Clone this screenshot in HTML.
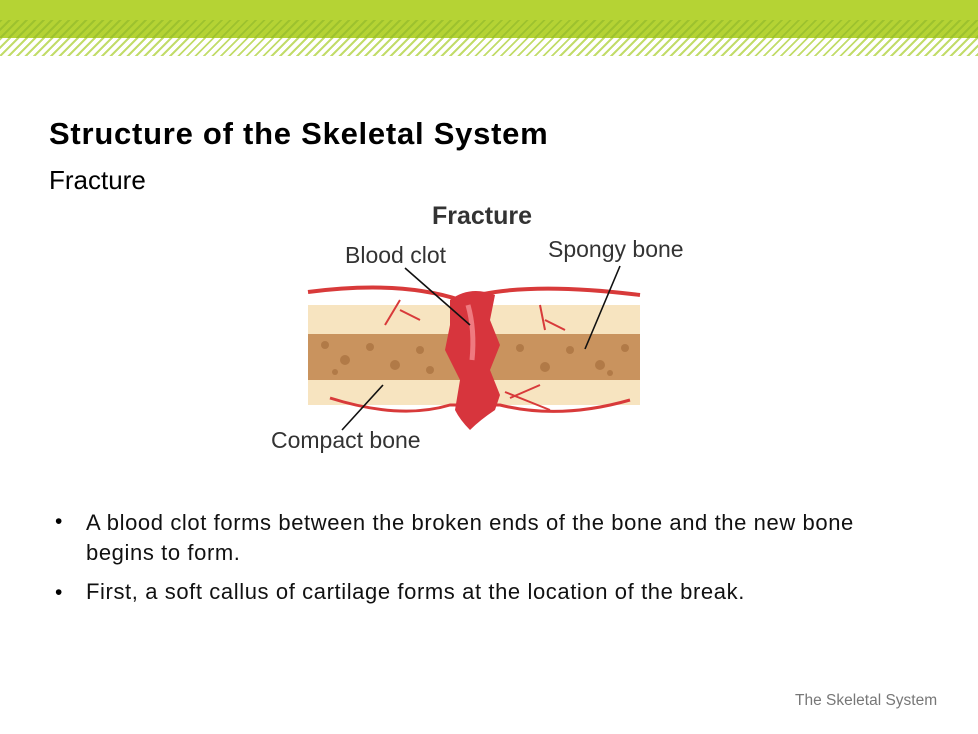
<!DOCTYPE html>
<html><head><style>
body{margin:0;width:978px;height:734px;background:#fff;position:relative;overflow:hidden;font-family:"Liberation Sans",Arial,sans-serif;}
.bar{position:absolute;left:0;top:0;width:978px;height:38px;background:#b5d334;}
.h1{position:absolute;left:0;top:20px;width:978px;height:18px;background:repeating-linear-gradient(135deg,#9dc22e 0 2px,transparent 2px 6px);}
.h2{position:absolute;left:0;top:38px;width:978px;height:18px;background:repeating-linear-gradient(135deg,#c2dc6a 0 2px,#fff 2px 6px);}
.t{position:absolute;white-space:nowrap;}
</style></head><body>
<div class="bar"></div><div class="h1"></div><div class="h2"></div>
<div class="t" style="left:49px;top:116px;font-size:31px;letter-spacing:0.75px;font-weight:bold;color:#000">Structure of the Skeletal System</div>
<div class="t" style="left:49px;top:165px;font-size:26px;color:#000">Fracture</div>
<svg style="position:absolute;left:0;top:0" width="978" height="734" font-family="Liberation Sans">
<text x="482" y="224" font-size="25" font-weight="bold" fill="#333" text-anchor="middle">Fracture</text>
<text x="345" y="263" font-size="23" fill="#333">Blood clot</text>
<text x="548" y="257" font-size="23" fill="#333">Spongy bone</text>
<text x="271" y="448" font-size="23" fill="#333">Compact bone</text>
<rect x="308" y="305" width="332" height="100" fill="#f7e4c0"/>
<rect x="308" y="334" width="332" height="46" fill="#c9935e"/>
<g fill="#a8703e" opacity=".7">
<circle cx="325" cy="345" r="4"/><circle cx="345" cy="360" r="5"/><circle cx="370" cy="347" r="4"/><circle cx="395" cy="365" r="5"/><circle cx="420" cy="350" r="4"/><circle cx="430" cy="370" r="4"/><circle cx="520" cy="348" r="4"/><circle cx="545" cy="367" r="5"/><circle cx="570" cy="350" r="4"/><circle cx="600" cy="365" r="5"/><circle cx="625" cy="348" r="4"/><circle cx="335" cy="372" r="3"/><circle cx="610" cy="373" r="3"/>
</g>
<path d="M308 292 Q400 280 460 300 Q520 280 640 295" stroke="#d83a3a" stroke-width="4" fill="none"/>
<path d="M400 300 L385 325 M400 310 L420 320 M540 305 L545 330 M545 320 L565 330 M505 392 L550 410 M510 398 L540 385" stroke="#d83a3a" stroke-width="2" fill="none"/>
<path d="M330 398 Q400 420 450 405 L500 405 Q560 420 630 400" stroke="#d83a3a" stroke-width="3" fill="none"/>
<path d="M450 300 Q470 285 495 295 L490 320 L500 345 L490 370 L500 395 L495 410 Q480 420 470 430 Q460 420 455 410 L460 380 L445 350 L450 325 Z" fill="#d7353d"/>
<path d="M468 305 Q475 330 472 360" stroke="#ef7a80" stroke-width="5" fill="none"/>
<g stroke="#111" stroke-width="1.6">
<line x1="405" y1="268" x2="470" y2="325"/>
<line x1="620" y1="266" x2="585" y2="349"/>
<line x1="342" y1="430" x2="383" y2="385"/>
</g>
</svg>
<div class="t" style="left:55px;top:510px;font-size:21px;color:#000">•</div>
<div class="t" style="left:86px;top:508px;font-size:22px;letter-spacing:0.6px;line-height:30px;color:#111;white-space:normal;width:810px">A blood clot forms between the broken ends of the bone and the new bone begins to form.</div>
<div class="t" style="left:55px;top:581px;font-size:21px;color:#000">•</div>
<div class="t" style="left:86px;top:579px;font-size:22px;letter-spacing:0.6px;color:#111">First, a soft callus of cartilage forms at the location of the break.</div>
<div class="t" style="left:795px;top:692px;font-size:15.5px;color:#777">The Skeletal System</div>
</body></html>
